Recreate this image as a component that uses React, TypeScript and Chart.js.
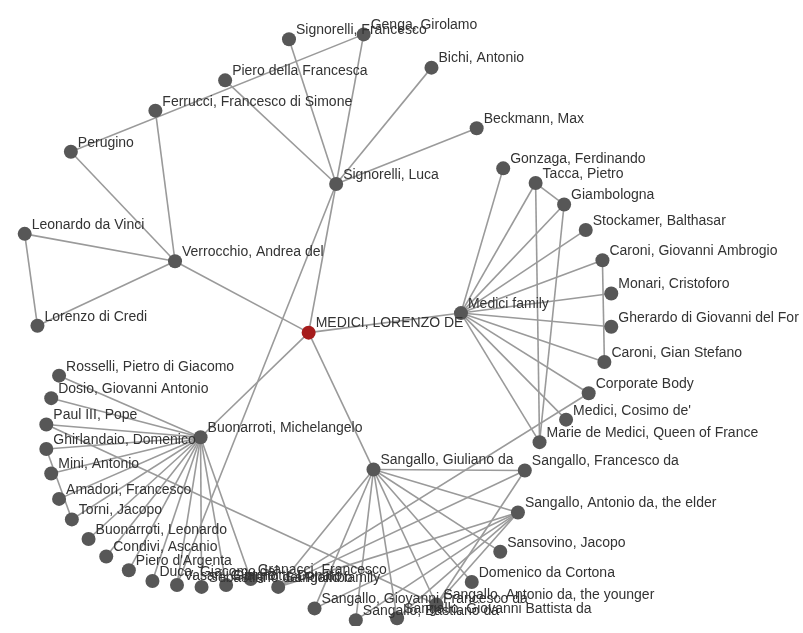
import React, { useEffect, useRef } from "react";
import { Chart, registerables } from "chart.js";

Chart.register(...registerables);

// Node names and layout positions (graph layout coordinates)
const nodeNames: string[] = [
  "MEDICI, LORENZO DE",
  "Signorelli, Luca",
  "Signorelli, Francesco",
  "Genga, Girolamo",
  "Bichi, Antonio",
  "Beckmann, Max",
  "Piero della Francesca",
  "Ferrucci, Francesco di Simone",
  "Perugino",
  "Leonardo da Vinci",
  "Verrocchio, Andrea del",
  "Lorenzo di Credi",
  "Medici family",
  "Gonzaga, Ferdinando",
  "Tacca, Pietro",
  "Giambologna",
  "Stockamer, Balthasar",
  "Caroni, Giovanni Ambrogio",
  "Monari, Cristoforo",
  "Gherardo di Giovanni del For",
  "Caroni, Gian Stefano",
  "Corporate Body",
  "Medici, Cosimo de'",
  "Marie de Medici, Queen of France",
  "Buonarroti, Michelangelo",
  "Rosselli, Pietro di Giacomo",
  "Dosio, Giovanni Antonio",
  "Paul III, Pope",
  "Ghirlandaio, Domenico",
  "Mini, Antonio",
  "Amadori, Francesco",
  "Torni, Jacopo",
  "Buonarroti, Leonardo",
  "Condivi, Ascanio",
  "Piero d'Argenta",
  "Duca, Giacomo del",
  "Vasari, Giorgio",
  "Sebastiano del Piombo",
  "Giannotti, Donato",
  "Granacci, Francesco",
  "Sangallo family",
  "Sangallo, Giuliano da",
  "Sangallo, Francesco da",
  "Sangallo, Antonio da, the elder",
  "Sansovino, Jacopo",
  "Domenico da Cortona",
  "Sangallo, Antonio da, the younger",
  "Sangallo, Giovanni Battista da",
  "Sangallo, Bastiano da",
  "Sangallo, Giovanni Francesco da",
];

const nodeX: number[] = [
  307, 335, 287, 363, 432, 478, 222, 151, 65, 18, 171, 31,
  462, 505, 538, 567, 589, 606, 615, 615, 608, 592, 569, 542,
  197, 53, 45, 40, 40, 45, 53, 66, 83, 101, 124, 148, 173, 198, 223, 248, 276,
  373, 527, 520, 502, 473, 437, 397, 355, 313,
];

const nodeY: number[] = [
  333, 181, 33, 28, 62, 124, 75, 106, 148, 232, 260, 326,
  313, 165, 180, 202, 228, 259, 293, 327, 363, 395, 422, 445,
  440, 377, 400, 427, 452, 477, 503, 524, 544, 562, 576, 587, 591, 593, 591, 585, 593,
  473, 474, 517, 557, 588, 611, 625, 627, 615,
];

const edgeSources: string[] = [
  "MEDICI, LORENZO DE", "MEDICI, LORENZO DE", "MEDICI, LORENZO DE", "MEDICI, LORENZO DE", "MEDICI, LORENZO DE",
  "Verrocchio, Andrea del", "Verrocchio, Andrea del", "Verrocchio, Andrea del", "Verrocchio, Andrea del",
  "Leonardo da Vinci", "Perugino",
  "Signorelli, Luca", "Signorelli, Luca", "Signorelli, Luca", "Signorelli, Luca", "Signorelli, Luca", "Signorelli, Luca",
  "Medici family", "Medici family", "Medici family", "Medici family", "Medici family", "Medici family",
  "Medici family", "Medici family", "Medici family", "Medici family", "Medici family",
  "Tacca, Pietro", "Tacca, Pietro", "Giambologna", "Caroni, Giovanni Ambrogio", "Corporate Body",
  "Buonarroti, Michelangelo", "Buonarroti, Michelangelo", "Buonarroti, Michelangelo", "Buonarroti, Michelangelo",
  "Buonarroti, Michelangelo", "Buonarroti, Michelangelo", "Buonarroti, Michelangelo", "Buonarroti, Michelangelo",
  "Buonarroti, Michelangelo", "Buonarroti, Michelangelo", "Buonarroti, Michelangelo", "Buonarroti, Michelangelo",
  "Buonarroti, Michelangelo", "Buonarroti, Michelangelo", "Buonarroti, Michelangelo",
  "Ghirlandaio, Domenico", "Paul III, Pope",
  "Sangallo, Giuliano da", "Sangallo, Giuliano da", "Sangallo, Giuliano da", "Sangallo, Giuliano da",
  "Sangallo, Giuliano da", "Sangallo, Giuliano da", "Sangallo, Giuliano da", "Sangallo, Giuliano da",
  "Sangallo, Giuliano da",
  "Sangallo, Antonio da, the elder", "Sangallo, Antonio da, the elder", "Sangallo, Antonio da, the elder",
  "Sangallo, Antonio da, the elder", "Sangallo, Antonio da, the elder",
  "Sangallo, Francesco da", "Sangallo, Francesco da",
];

const edgeTargets: string[] = [
  "Verrocchio, Andrea del", "Signorelli, Luca", "Medici family", "Buonarroti, Michelangelo", "Sangallo, Giuliano da",
  "Leonardo da Vinci", "Lorenzo di Credi", "Perugino", "Ferrucci, Francesco di Simone",
  "Lorenzo di Credi", "Genga, Girolamo",
  "Signorelli, Francesco", "Genga, Girolamo", "Bichi, Antonio", "Beckmann, Max", "Piero della Francesca", "Vasari, Giorgio",
  "Gonzaga, Ferdinando", "Tacca, Pietro", "Giambologna", "Stockamer, Balthasar", "Caroni, Giovanni Ambrogio", "Monari, Cristoforo",
  "Gherardo di Giovanni del For", "Caroni, Gian Stefano", "Corporate Body", "Medici, Cosimo de'", "Marie de Medici, Queen of France",
  "Giambologna", "Marie de Medici, Queen of France", "Marie de Medici, Queen of France", "Caroni, Gian Stefano", "Sangallo family",
  "Rosselli, Pietro di Giacomo", "Dosio, Giovanni Antonio", "Paul III, Pope", "Ghirlandaio, Domenico",
  "Mini, Antonio", "Amadori, Francesco", "Torni, Jacopo", "Buonarroti, Leonardo",
  "Condivi, Ascanio", "Piero d'Argenta", "Duca, Giacomo del", "Vasari, Giorgio",
  "Sebastiano del Piombo", "Giannotti, Donato", "Granacci, Francesco",
  "Torni, Jacopo", "Sangallo, Antonio da, the younger",
  "Sangallo, Francesco da", "Sangallo, Antonio da, the elder", "Sansovino, Jacopo", "Domenico da Cortona",
  "Sangallo, Antonio da, the younger", "Sangallo, Giovanni Battista da", "Sangallo, Bastiano da", "Sangallo, Giovanni Francesco da",
  "Sangallo family",
  "Sangallo family", "Sangallo, Giovanni Francesco da", "Sangallo, Bastiano da",
  "Sangallo, Giovanni Battista da", "Sangallo, Antonio da, the younger",
  "Sangallo family", "Sangallo, Antonio da, the younger",
];

const focusNode = "MEDICI, LORENZO DE";

export default function App() {
  const canvasRef = useRef<HTMLCanvasElement | null>(null);

  useEffect(() => {
    document.body.style.margin = "0";
    const canvas = canvasRef.current;
    if (!canvas) return;

    const pos = (name: string) => {
      const i = nodeNames.indexOf(name);
      return { x: nodeX[i], y: nodeY[i] };
    };

    const edgeDatasets = edgeSources.map((s, i) => ({
      type: "scatter" as const,
      data: [pos(s), pos(edgeTargets[i])],
      showLine: true,
      borderColor: "#9a9a9a",
      borderWidth: 1.6,
      pointRadius: 0,
      pointHoverRadius: 0,
      order: 2,
    }));

    const nodeDataset = {
      type: "scatter" as const,
      data: nodeNames.map((_, i) => ({ x: nodeX[i], y: nodeY[i] })),
      pointRadius: 7,
      pointHoverRadius: 7,
      backgroundColor: nodeNames.map((n) => (n === focusNode ? "#a61c1c" : "#575757")),
      borderWidth: 0,
      order: 1,
    };

    const labelPlugin = {
      id: "nodeLabels",
      afterDatasetsDraw(chart: any) {
        const ctx = chart.ctx;
        const xs = chart.scales.x;
        const ys = chart.scales.y;
        ctx.save();
        ctx.font = '14px "Liberation Sans", Arial, sans-serif';
        ctx.fillStyle = "#333333";
        ctx.textBaseline = "middle";
        ctx.textAlign = "left";
        nodeNames.forEach((n, i) => {
          const px = xs.getPixelForValue(nodeX[i]);
          const py = ys.getPixelForValue(nodeY[i]);
          ctx.fillText(n, px + 7, py - 9);
        });
        ctx.restore();
      },
    };

    const chart = new Chart(canvas, {
      type: "scatter",
      data: { datasets: [nodeDataset, ...edgeDatasets] as any },
      options: {
        animation: false,
        responsive: false,
        maintainAspectRatio: false,
        layout: { padding: 0 },
        events: [],
        scales: {
          x: { type: "linear", min: 0, max: 803, display: false },
          y: { type: "linear", min: 0, max: 633, reverse: true, display: false },
        },
        plugins: {
          legend: { display: false },
          tooltip: { enabled: false },
        },
      },
      plugins: [labelPlugin],
    });

    return () => chart.destroy();
  }, []);

  return (
    <div style={{ width: 803, height: 633, background: "#ffffff" }}>
      <canvas ref={canvasRef} width={803} height={633} style={{ display: "block" }} />
    </div>
  );
}
